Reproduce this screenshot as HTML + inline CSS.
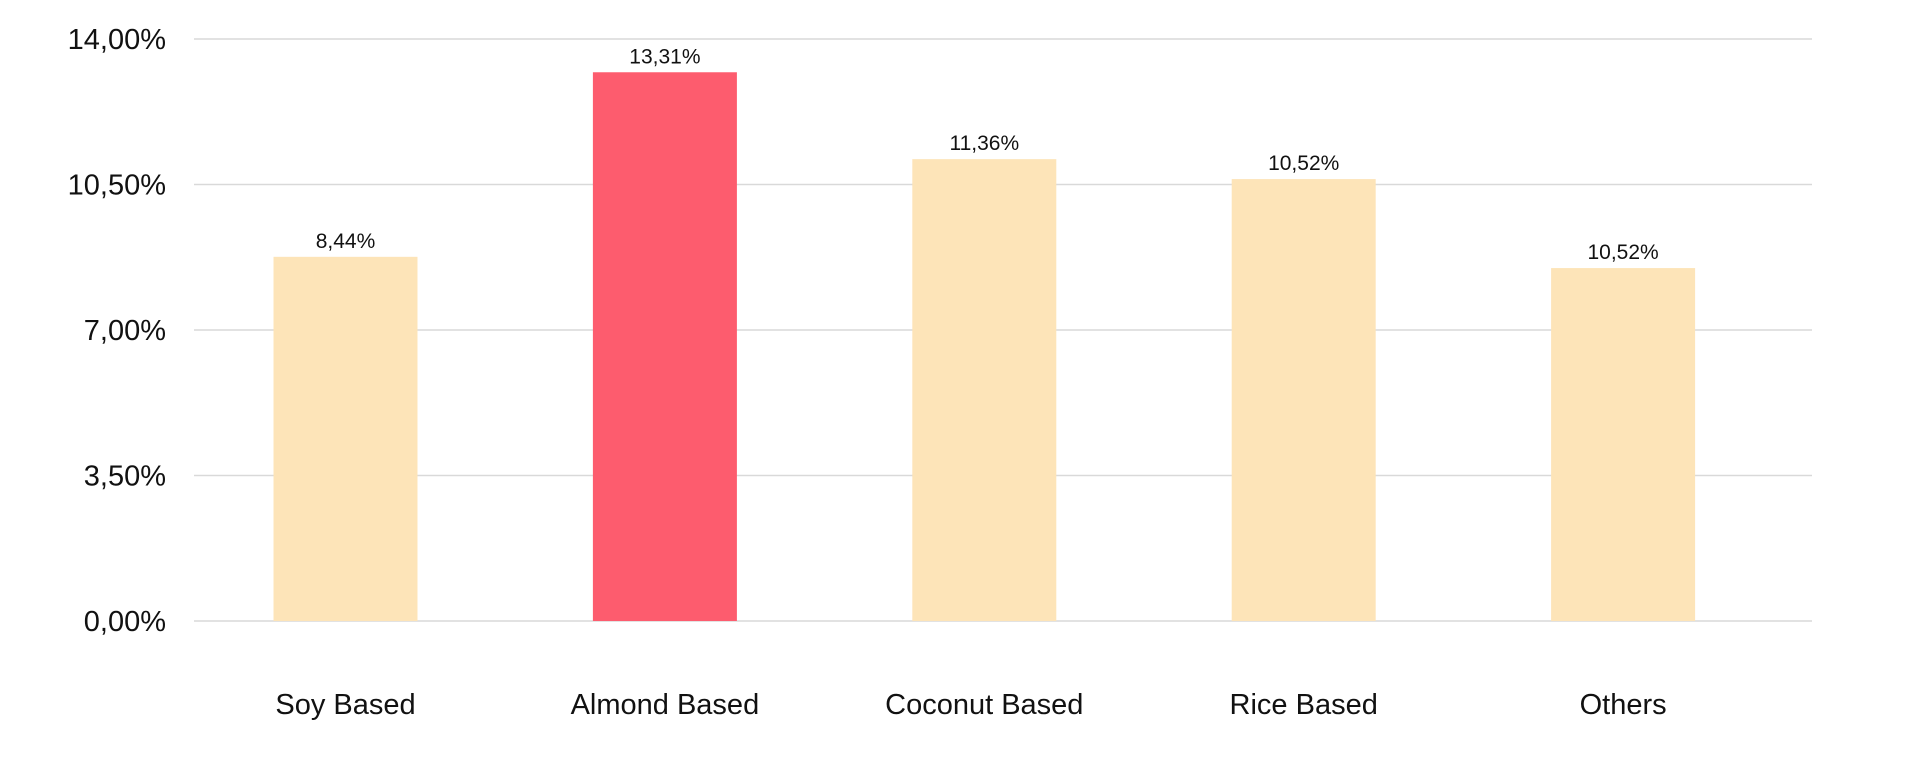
<!DOCTYPE html>
<html><head><meta charset="utf-8"><style>
html,body{margin:0;padding:0;background:#fff;}
svg text{font-family:"Liberation Sans",sans-serif;fill:#111;}
</style></head><body>
<svg id="chart" width="1920" height="767" xmlns="http://www.w3.org/2000/svg">
<g id="grid"></g>
<g id="yticks"></g>
<g id="bars"></g>
<g id="xlabels"></g>
</svg>
<script>
const categories = ["Soy Based","Almond Based","Coconut Based","Rice Based","Others"];
const values = [8.76, 13.2, 11.11, 10.63, 8.49];
const valueLabels = ["8,44%","13,31%","11,36%","10,52%","10,52%"];
const highlight = [false, true, false, false, false];
const ticks = [0, 3.5, 7, 10.5, 14];
const tickLabels = ["0,00%","3,50%","7,00%","10,50%","14,00%"];

const NS = "http://www.w3.org/2000/svg";
const y0 = 621, yTop = 39, vMax = 14;
const xL = 194, xR = 1812;
function y(v){ return y0 - (v / vMax) * (y0 - yTop); }
function xc(i){ return 345.5 + i * 319.4; }
const bw = 144;
function mk(tag, attrs, parent){
  const e = document.createElementNS(NS, tag);
  for (const k in attrs) e.setAttribute(k, attrs[k]);
  parent.appendChild(e); return e;
}
const grid = document.getElementById('grid'), yt = document.getElementById('yticks'),
      bars = document.getElementById('bars'), xl = document.getElementById('xlabels');
ticks.forEach((t, i) => {
  const l = mk('line', {x1: xL, x2: xR, y1: y(t), y2: y(t), stroke: '#d9d9d9', 'stroke-width': 1.5}, grid);
  
  
  const tx = mk('text', {x: 166, y: y(t) + 10, 'text-anchor': 'end', 'font-size': 29}, yt);
  tx.textContent = tickLabels[i];
  
  
});
categories.forEach((c, i) => {
  const r = mk('rect', {x: xc(i) - bw/2, y: y(values[i]), width: bw, height: y0 - y(values[i]), fill: highlight[i] ? '#fd5c6e' : '#fde4b8'}, bars);
  
  
  const vl = mk('text', {x: xc(i), y: y(values[i]) - 9, 'text-anchor': 'middle', 'font-size': 21}, bars);
  vl.textContent = valueLabels[i];
  
  
  const cl = mk('text', {x: xc(i), y: 714, 'text-anchor': 'middle', 'font-size': 29}, xl);
  cl.textContent = c;
  
  
});
</script>
</body></html>
